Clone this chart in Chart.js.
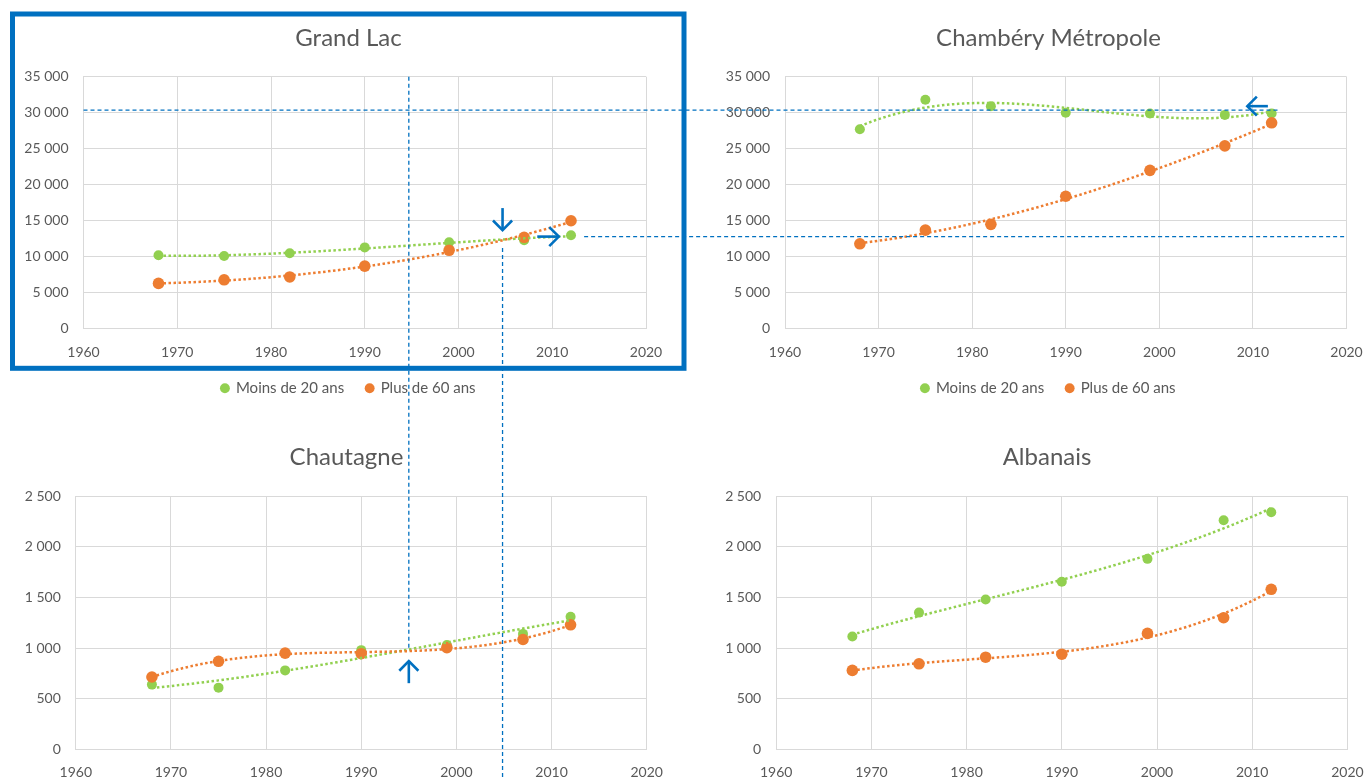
<!DOCTYPE html>
<html lang="fr">
<head>
<meta charset="utf-8">
<title>Moins de 20 ans / Plus de 60 ans</title>
<script src="https://cdn.jsdelivr.net/npm/chart.js@4.4.1/dist/chart.umd.min.js"></script>
<style>
  html, body { margin:0; padding:0; background:#fff; width:1365px; height:778px; overflow:hidden; }
  canvas { position:absolute; }
  #overlay { position:absolute; left:0; top:0; pointer-events:none; }
</style>
</head>
<body>
<canvas id="lac"></canvas>
<canvas id="cham"></canvas>
<canvas id="chau"></canvas>
<canvas id="alb"></canvas>
<svg id="overlay" width="1365" height="778" xmlns="http://www.w3.org/2000/svg"></svg>
<script>
// ---------------- DATA ----------------
const years = [1968, 1975, 1982, 1990, 1999, 2007, 2012];
const seriesNames = ['Moins de 20 ans', 'Plus de 60 ans'];

const grandLacMoins20 = [10200, 10100, 10500, 11300, 12000, 12300, 13000];
const grandLacPlus60  = [6300, 6800, 7200, 8700, 10900, 12700, 15000];

const chamberyMoins20 = [27700, 31800, 30900, 30000, 29900, 29700, 29900];
const chamberyPlus60  = [11800, 13700, 14500, 18400, 22000, 25400, 28600];

const chautagneMoins20 = [640, 610, 780, 980, 1030, 1140, 1310];
const chautagnePlus60  = [715, 870, 950, 945, 1005, 1085, 1230];

const albanaisMoins20 = [1115, 1350, 1480, 1655, 1880, 2260, 2340];
const albanaisPlus60  = [780, 845, 910, 940, 1145, 1300, 1580];

const xTickValues = [1960, 1970, 1980, 1990, 2000, 2010, 2020];
const yTickValuesLarge = [0, 5000, 10000, 15000, 20000, 25000, 30000, 35000];
const yTickValuesSmall = [0, 500, 1000, 1500, 2000, 2500];

// ---------------- STYLE ----------------
const GREEN = '#92D050', ORANGE = '#ED7D31', TEXT = '#595959', GRID = '#D9D9D9', BLUE = '#0070C0';
Chart.defaults.font.family = 'Lato, "Open Sans", sans-serif';

const fmtThousands = v => String(v).replace(/\B(?=(\d{3})+(?!\d))/g, ' ');

// Excel-like polynomial (order 3) trendline, least squares on the data above
function polyFit(xs, ys, deg) {
  const n = deg + 1, cx = 1990, sx = 10;
  const A = Array.from({length: n}, () => new Array(n + 1).fill(0));
  xs.forEach((x0, i) => {
    const x = (x0 - cx) / sx;
    for (let r = 0; r < n; r++) {
      for (let c = 0; c < n; c++) A[r][c] += Math.pow(x, r + c);
      A[r][n] += Math.pow(x, r) * ys[i];
    }
  });
  for (let i = 0; i < n; i++) {
    let p = i;
    for (let r = i + 1; r < n; r++) if (Math.abs(A[r][i]) > Math.abs(A[p][i])) p = r;
    [A[i], A[p]] = [A[p], A[i]];
    for (let r = 0; r < n; r++) {
      if (r === i) continue;
      const f = A[r][i] / A[i][i];
      for (let c = i; c <= n; c++) A[r][c] -= f * A[i][c];
    }
  }
  const coef = A.map((row, i) => row[n] / row[i]);
  return x0 => { const x = (x0 - cx) / sx; return coef.reduce((s, c, k) => s + c * Math.pow(x, k), 0); };
}
function trendline(xs, ys) {
  const f = polyFit(xs, ys, 3);
  const a = xs[0], b = xs[xs.length - 1], steps = 88, out = [];
  for (let i = 0; i <= steps; i++) { const x = a + (b - a) * i / steps; out.push({x, y: f(x)}); }
  return out;
}
const toPoints = (xs, ys) => xs.map((x, i) => ({x, y: ys[i]}));

// ---------------- PANELS (layout) ----------------
const panels = [
  {id: 'lac',  title: 'Grand Lac',          moins: grandLacMoins20,  plus: grandLacPlus60,  yTicks: yTickValuesLarge, legend: true,
   left: 0,   top: 0,   w: 690, h: 470, padL: 13.5, padR: 6.5,  yW: 70, rW: 37.5, titlePad: {top: 23.6, bottom: 24.3}, plotBottom: 328.8},
  {id: 'cham', title: 'Chambéry Métropole', moins: chamberyMoins20,  plus: chamberyPlus60,  yTicks: yTickValuesLarge, legend: true,
   left: 690, top: 0,   w: 700, h: 470, padL: 25,   padR: 8,    yW: 70, rW: 35.5, titlePad: {top: 23.6, bottom: 24.3}, plotBottom: 328.8},
  {id: 'chau', title: 'Chautagne',          moins: chautagneMoins20, plus: chautagnePlus60, yTicks: yTickValuesSmall, legend: false,
   left: 0,   top: 420, w: 690, h: 380, padL: 13.8, padR: 10.8, yW: 62, rW: 32.5, titlePad: {top: 22.6, bottom: 24.6}, plotBottom: 749.5},
  {id: 'alb',  title: 'Albanais',           moins: albanaisMoins20,  plus: albanaisPlus60,  yTicks: yTickValuesSmall, legend: false,
   left: 690, top: 420, w: 700, h: 380, padL: 24.2, padR: 10.2, yW: 62, rW: 32.4, titlePad: {top: 22.6, bottom: 24.6}, plotBottom: 749.5},
];

const charts = {}, specs = {};
panels.forEach(p => {
  specs[p.id] = p;
  const canvas = document.getElementById(p.id);
  canvas.width = p.w; canvas.height = p.h;
  canvas.style.left = p.left + 'px'; canvas.style.top = p.top + 'px';
  const ticksFont = {size: 14};
  const chart = new Chart(canvas, {
    type: 'scatter',
    data: {
      datasets: [
        {label: seriesNames[0], data: toPoints(years, p.moins), backgroundColor: GREEN, borderColor: GREEN,
         pointRadius: 5, pointHoverRadius: 5, borderWidth: 0, order: 4},
        {label: seriesNames[1], data: toPoints(years, p.plus), backgroundColor: ORANGE, borderColor: ORANGE,
         pointRadius: 5.8, pointHoverRadius: 5.8, borderWidth: 0, order: 3},
        {label: 'Poly. (' + seriesNames[0] + ')', data: trendline(years, p.moins), showLine: true, borderColor: GREEN,
         backgroundColor: GREEN, borderWidth: 2.5, borderDash: [2.5, 2.5], pointRadius: 0, order: 2},
        {label: 'Poly. (' + seriesNames[1] + ')', data: trendline(years, p.plus), showLine: true, borderColor: ORANGE,
         backgroundColor: ORANGE, borderWidth: 2.5, borderDash: [2.5, 2.5], pointRadius: 0, order: 1},
      ]
    },
    options: {
      responsive: false, animation: false, devicePixelRatio: 1,
      layout: {padding: {left: p.padL, right: p.padR, top: 0, bottom: 0}},
      plugins: {
        title: {display: true, text: p.title, color: TEXT, font: {size: 24, weight: 'normal'}, padding: p.titlePad},
        legend: {
          display: p.legend, position: 'bottom',
          labels: {usePointStyle: true, pointStyle: 'circle', boxWidth: 7, boxHeight: 7, padding: 22, color: TEXT,
                   font: {size: 15}, filter: item => item.datasetIndex < 2, sort: (a, b) => a.datasetIndex - b.datasetIndex}
        },
        tooltip: {enabled: false}
      },
      scales: {
        x: {
          type: 'linear', min: xTickValues[0], max: xTickValues[xTickValues.length - 1],
          afterBuildTicks: axis => { axis.ticks = xTickValues.map(v => ({value: v})); },
          ticks: {color: TEXT, font: ticksFont, padding: 15, maxRotation: 0, autoSkip: false, callback: v => String(v)},
          grid: {color: GRID, drawTicks: false}, border: {color: GRID},
          afterFit: s => { s.height = 30; }
        },
        y: {
          type: 'linear', position: 'left', min: p.yTicks[0], max: p.yTicks[p.yTicks.length - 1],
          afterBuildTicks: axis => { axis.ticks = p.yTicks.map(v => ({value: v})); },
          ticks: {color: TEXT, font: ticksFont, padding: 15, callback: v => fmtThousands(v)},
          grid: {color: GRID, drawTicks: false}, border: {color: GRID},
          afterFit: s => { s.width = p.yW; }
        },
        // empty spacer on the right so that title and legend are centred like the reference
        yRight: {
          type: 'linear', position: 'right', display: true,
          ticks: {display: false}, grid: {display: false, drawTicks: false}, border: {display: false},
          afterFit: s => { s.width = p.rW; }
        }
      }
    }
  });
  // put the plot bottom where the reference has it
  const delta = chart.chartArea.bottom - (p.plotBottom - p.top);
  chart.options.layout.padding.bottom = Math.max(0, delta);
  chart.update('none');
  charts[p.id] = chart;
});

// ---------------- ANNOTATIONS (in data units of each panel) ----------------
const guideLines = [
  {y: ['lac', 30350], x1: ['lac', 1960],    x2: ['cham', 2012.7]},
  {y: ['lac', 12800], x1: ['lac', 2013.4],  x2: ['cham', 2020]},
  {x: ['chau', 1995],    y1: ['lac', 35000], y2: ['chau', 980]},
  {x: ['chau', 2004.85], y1: ['lac', 11210], y2: ['chau', -300]},
];
const arrowMarks = [
  {x: ['chau', 2004.85], y1: ['lac', 16760], y2: ['lac', 13710]},
  {y: ['lac', 12800],    x1: ['lac', 2008.4], x2: ['lac', 2010.7]},
  {y: ['cham', 30910],   x1: ['cham', 2011.6], x2: ['cham', 2009.4]},
  {x: ['chau', 1995],    y1: ['chau', 654],  y2: ['chau', 871]},
];
const px = ([id, v]) => specs[id].left + charts[id].scales.x.getPixelForValue(v);
const py = ([id, v]) => specs[id].top + charts[id].scales.y.getPixelForValue(v);
const svg = document.getElementById('overlay');
const NS = 'http://www.w3.org/2000/svg';
function el(tag, attrs) { const e = document.createElementNS(NS, tag); for (const k in attrs) e.setAttribute(k, attrs[k]); svg.appendChild(e); return e; }
function ends(m) {
  if (m.x) { const x = px(m.x); return [x, py(m.y1), x, py(m.y2)]; }
  const y = py(m.y); return [px(m.x1), y, px(m.x2), y];
}
el('rect', {x: 12.5, y: 14, width: 671.5, height: 354.3, fill: 'none', stroke: BLUE, 'stroke-width': 5});
guideLines.forEach(g => {
  const [x1, y1, x2, y2] = ends(g);
  el('line', {x1, y1, x2, y2, stroke: BLUE, 'stroke-width': 1.3, 'stroke-dasharray': '4 3'});
});
arrowMarks.forEach(a => {
  const [x1, y1, x2, y2] = ends(a);
  const L = Math.hypot(x2 - x1, y2 - y1), dx = (x2 - x1) / L, dy = (y2 - y1) / L, h = 13.5;
  const c = Math.SQRT1_2;
  const ax = x2 - h * (dx * c - dy * c), ay = y2 - h * (dy * c + dx * c);
  const bx = x2 - h * (dx * c + dy * c), by = y2 - h * (dy * c - dx * c);
  el('line', {x1, y1, x2, y2, stroke: BLUE, 'stroke-width': 2.6});
  el('polyline', {points: `${ax},${ay} ${x2},${y2} ${bx},${by}`, fill: 'none', stroke: BLUE, 'stroke-width': 2.6});
});
</script>
</body>
</html>
